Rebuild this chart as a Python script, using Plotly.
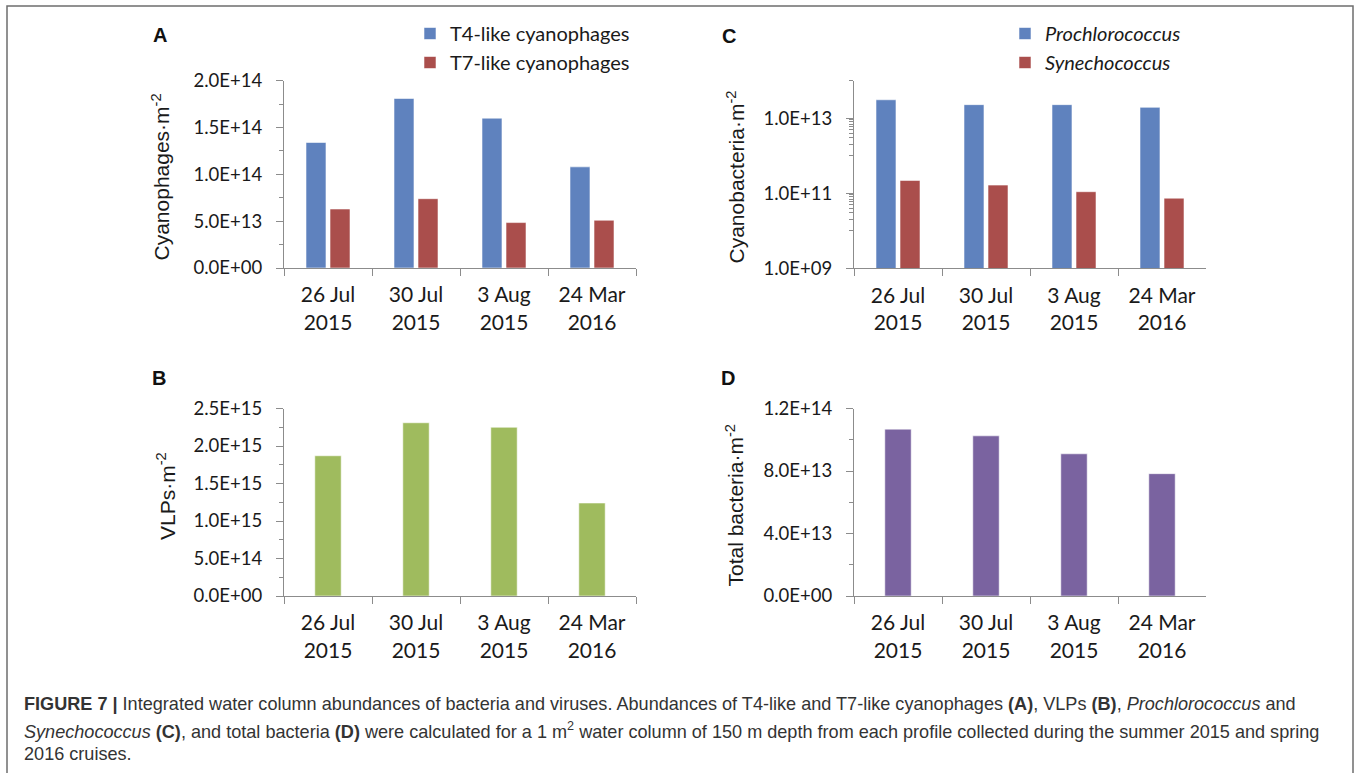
import plotly.graph_objects as go

# Sampling dates (category axis)
dates = ["26 Jul<br>2015", "30 Jul<br>2015", "3 Aug<br>2015", "24 Mar<br>2016"]

# (A) cyanophages per m2
t4_like = [1.34e14, 1.81e14, 1.60e14, 1.08e14]
t7_like = [6.3e13, 7.4e13, 4.85e13, 5.1e13]

# (B) virus-like particles per m2
vlps = [1.87e15, 2.31e15, 2.25e15, 1.24e15]

# (C) cyanobacteria per m2
prochlorococcus = [3.1e13, 2.3e13, 2.3e13, 1.95e13]
synechococcus = [2.2e11, 1.65e11, 1.1e11, 7.4e10]

# (D) total bacteria per m2
total_bacteria = [1.068e14, 1.025e14, 0.91e14, 0.783e14]

# Tick values and labels
ticks_a = [0, 5e13, 1e14, 1.5e14, 2e14]
labels_a = ["0.0E+00", "5.0E+13", "1.0E+14", "1.5E+14", "2.0E+14"]
ticks_b = [0, 5e14, 1e15, 1.5e15, 2e15, 2.5e15]
labels_b = ["0.0E+00", "5.0E+14", "1.0E+15", "1.5E+15", "2.0E+15", "2.5E+15"]
ticks_c = [1e9, 1e11, 1e13]
labels_c = ["1.0E+09", "1.0E+11", "1.0E+13"]
ticks_d = [0, 4e13, 8e13, 1.2e14]
labels_d = ["0.0E+00", "4.0E+13", "8.0E+13", "1.2E+14"]

W, H = 1357, 773


def fx(p):
    return p / W


def fy(p):
    return 1 - p / H


BLUE = "#5f82be"
RED = "#aa4e4c"
GREEN = "#9fbb5e"
PURPLE = "#7a63a0"
AXIS = "#8c8c8c"
TXT = "#1a1a1a"
EDGE = dict(color="rgba(255,255,255,0.55)", width=1)

fig = go.Figure()

# Panel A
fig.add_trace(go.Bar(x=dates, y=t4_like, name="T4-like cyanophages", marker=dict(color=BLUE, line=EDGE),
                     width=0.227, offset=-0.25, xaxis="x", yaxis="y", legend="legend", legendgroup="a1"))
fig.add_trace(go.Bar(x=dates, y=t7_like, name="T7-like cyanophages", marker=dict(color=RED, line=EDGE),
                     width=0.227, offset=0.023, xaxis="x", yaxis="y", legend="legend", legendgroup="a2"))
# Panel C
fig.add_trace(go.Bar(x=dates, y=prochlorococcus, name="<i>Prochlorococcus</i>", marker=dict(color=BLUE, line=EDGE),
                     width=0.227, offset=-0.25, xaxis="x2", yaxis="y2", legend="legend2", legendgroup="c1"))
fig.add_trace(go.Bar(x=dates, y=synechococcus, name="<i>Synechococcus</i>", marker=dict(color=RED, line=EDGE),
                     width=0.227, offset=0.023, xaxis="x2", yaxis="y2", legend="legend2", legendgroup="c2"))
# Panel B
fig.add_trace(go.Bar(x=dates, y=vlps, marker=dict(color=GREEN, line=EDGE), width=0.3, offset=-0.15,
                     xaxis="x3", yaxis="y3", showlegend=False))
# Panel D
fig.add_trace(go.Bar(x=dates, y=total_bacteria, marker=dict(color=PURPLE, line=EDGE), width=0.3, offset=-0.15,
                     xaxis="x4", yaxis="y4", showlegend=False))

common = dict(showline=True, linecolor=AXIS, linewidth=1.3, ticks="outside", tickcolor=AXIS,
              ticklen=7, tickwidth=1.3, showgrid=False, zeroline=False, automargin=False)


def xaxis(left, anchor):
    return dict(common, domain=[fx(left), fx(left + 352)], anchor=anchor, type="category",
                tickson="boundaries", tickfont=dict(family="Lato", size=21, color=TXT),
                ticklabelstandoff=8)


def yaxis(top, bottom, anchor, vals, texts, minor_vals, rng, log=False):
    d = dict(common, domain=[fy(bottom), fy(top)], anchor=anchor, tickmode="array",
             tickvals=vals, ticktext=texts, tickfont=dict(family="Lato", size=18.5, color=TXT),
             ticklabelstandoff=10, range=rng,
             minor=dict(tickmode="array", tickvals=minor_vals, ticks="outside", ticklen=4,
                        tickcolor=AXIS, tickwidth=1.2))
    if log:
        d["type"] = "log"
    return d


minor_a = [2.5e13, 7.5e13, 1.25e14, 1.75e14]
minor_b = [2.5e14, 7.5e14, 1.25e15, 1.75e15, 2.25e15]
minor_c = [1e10] + [k * 1e10 for k in range(2, 10)] + [1e12] + [k * 1e12 for k in range(2, 10)] + [1e14]
minor_d = [2e13, 6e13, 1e14]

legend_font = dict(family="Lato", size=20, color=TXT)

fig.update_layout(
    width=W, height=H, margin=dict(l=0, r=0, t=0, b=0, autoexpand=False),
    paper_bgcolor="white", plot_bgcolor="white", barmode="overlay",
    xaxis=xaxis(284, "y"),
    yaxis=yaxis(80.7, 268, "x", ticks_a, labels_a, minor_a, [0, 2e14]),
    xaxis2=xaxis(854, "y2"),
    yaxis2=yaxis(80.7, 268.3, "x2", ticks_c, labels_c, minor_c, [9, 14], log=True),
    xaxis3=xaxis(284, "y3"),
    yaxis3=yaxis(408.5, 596, "x3", ticks_b, labels_b, minor_b, [0, 2.5e15]),
    xaxis4=xaxis(854, "y4"),
    yaxis4=yaxis(408.5, 596, "x4", ticks_d, labels_d, minor_d, [0, 1.2e14]),
    legend=dict(x=fx(410), y=fy(14), xanchor="left", yanchor="top", bgcolor="rgba(0,0,0,0)",
                font=legend_font, traceorder="grouped", tracegroupgap=0),
    legend2=dict(x=fx(1005), y=fy(14), xanchor="left", yanchor="top", bgcolor="rgba(0,0,0,0)",
                 font=legend_font, traceorder="grouped", tracegroupgap=0),
    showlegend=True,
)

# Frame around the figure panels (open at the bottom edge of the page)
frame_path = f"M {fx(7)},0 L {fx(7)},{fy(6)} L {fx(1353)},{fy(6)} L {fx(1353)},0"
fig.add_shape(type="path", xref="paper", yref="paper", path=frame_path,
              line=dict(color="#6e6e6e", width=1.5), layer="below")

# Y-axis titles
for title, x, y in [("Cyanophages·m<sup>-2</sup>", 161, 177.5),
                    ("Cyanobacteria·m<sup>-2</sup>", 736, 177.5),
                    ("VLPs·m<sup>-2</sup>", 166, 496),
                    ("Total bacteria·m<sup>-2</sup>", 734.5, 506)]:
    fig.add_annotation(text=title, x=fx(x), y=fy(y), xref="paper", yref="paper", showarrow=False,
                       textangle=-90, xanchor="center", yanchor="middle",
                       font=dict(family="Liberation Sans", size=21, color=TXT))

# Panel letters
for letter, x, y in [("A", 160, 35), ("C", 729, 36), ("B", 159, 378), ("D", 728, 378)]:
    fig.add_annotation(text=letter, x=fx(x), y=fy(y), xref="paper", yref="paper", showarrow=False,
                       xanchor="center", yanchor="middle",
                       font=dict(family="Liberation Sans", size=20, color="#111111", weight="bold"))

# Caption
caption = [
    "<b>FIGURE 7 |</b> Integrated water column abundances of bacteria and viruses. Abundances of T4-like and "
    "T7-like cyanophages <b>(A)</b>, VLPs <b>(B)</b>, <i>Prochlorococcus</i> and",
    "<i>Synechococcus</i> <b>(C)</b>, and total bacteria <b>(D)</b> were calculated for a 1 m<sup>2</sup> "
    "water column of 150 m depth from each profile collected during the summer 2015 and spring",
    "2016 cruises.",
]
for line, y in zip(caption, [704, 730, 754]):
    fig.add_annotation(text=line, x=fx(22), y=fy(y), xref="paper", yref="paper", showarrow=False,
                       xanchor="left", yanchor="middle", align="left",
                       font=dict(family="Liberation Sans", size=18.1, color="#333333"))

fig.write_html("out.html")
